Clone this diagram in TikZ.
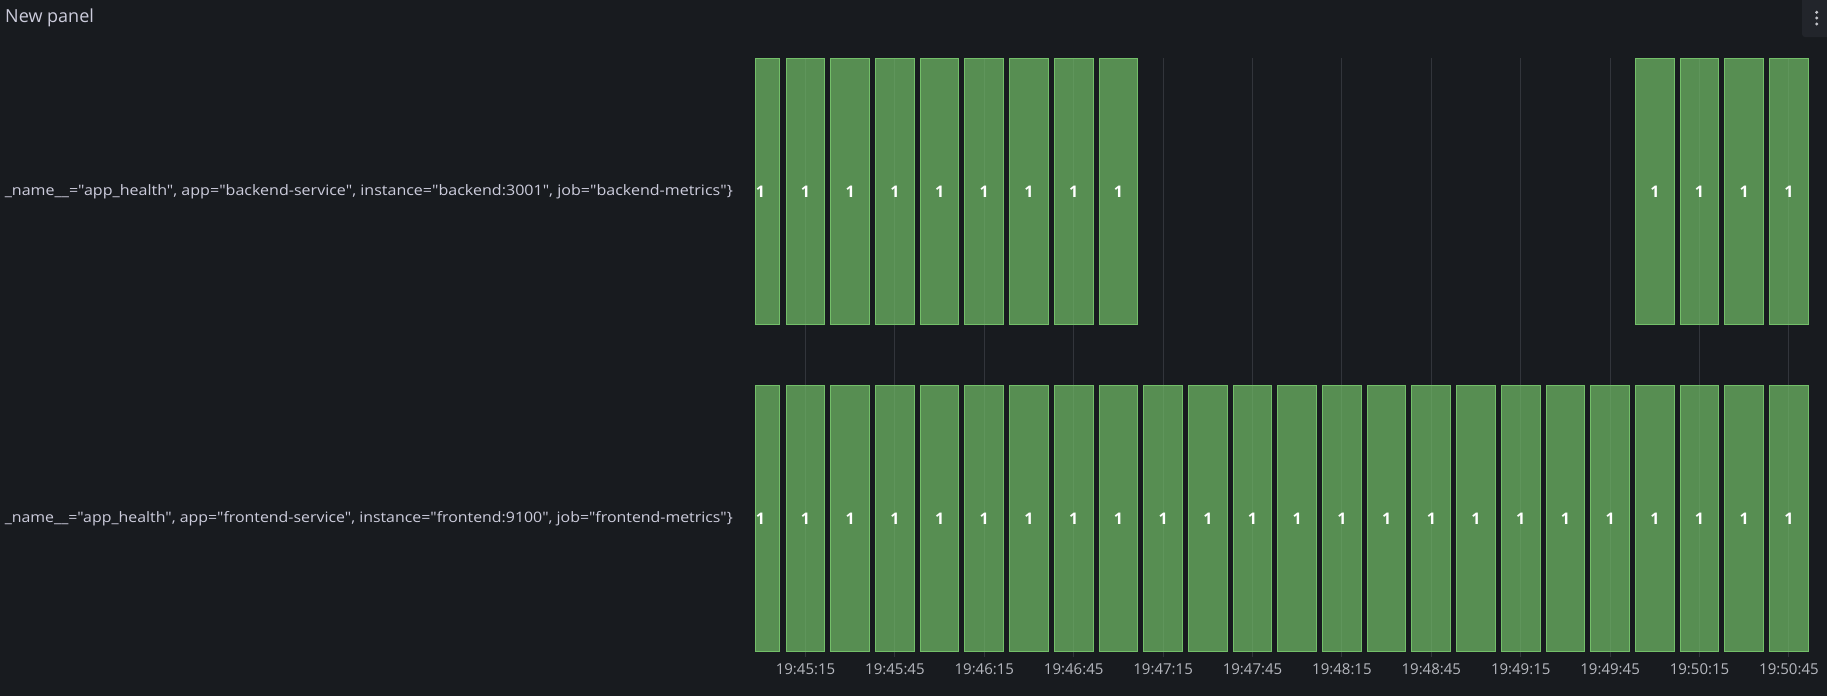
\documentclass[tikz,border=0pt]{standalone}
\usepackage{fontspec}
\setmainfont{Open Sans}[Ligatures=TeXOff]
\pgfdeclarelayer{rejilla}
\pgfsetlayers{rejilla, main}
\definecolor{fondo}{HTML}{181B1F}
\definecolor{verde}{HTML}{73BF69}
\definecolor{linea}{HTML}{32353B}
\definecolor{texto}{HTML}{CCCCDC}
\definecolor{eje}{HTML}{B5B7BE}
\definecolor{boton}{HTML}{22252B}
\tikzstyle{barra}=[rectangle,draw=verde,fill=verde,fill opacity=0.7,text opacity=1,line width=1pt,inner sep=0pt,minimum width=38.7pt,minimum height=266pt,text=white,font=\fontsize{16}{18}\selectfont\bfseries]
\tikzstyle{serie}=[anchor=east,inner sep=0pt,text=texto,font=\fontsize{14.4}{16}\selectfont]
\tikzstyle{hora}=[inner sep=0pt,text=eje,font=\fontsize{15}{17}\selectfont]
\newcommand{\etiqueta}[1]{\resizebox{728pt}{\height}{#1}}

\begin{document}
\begin{tikzpicture}[x=1pt,y=-1pt]
		\useasboundingbox (0,0) rectangle (1827,696);
		\node (titulo) at (5,18) [anchor=west,inner sep=0pt,text=texto,font=\fontsize{18}{20}\selectfont] {New panel};
		\fill[boton,rounded corners=3pt] (1802,-6) rectangle (1834,37);
		\foreach \y in {12.3,18,24} \fill[eje!80] (1816.7,\y) circle (1.7);
		
		\begin{pgfonlayer}{rejilla}
			\fill[fondo] (0,0) rectangle (1827,696);
			\foreach \i in {0,...,11}
				\draw[linea,line width=1pt] (805.5+89.4*\i,58) -- (805.5+89.4*\i,657);
		\end{pgfonlayer}
		
		\node (backend) at (733,191.5) [serie] {\etiqueta{\_name\_\_="app\_health", app="backend-service", instance="backend:3001", job="backend-metrics"\}}};
		\node (frontend) at (733,518.5) [serie] {\etiqueta{\_name\_\_="app\_health", app="frontend-service", instance="frontend:9100", job="frontend-metrics"\}}};
		
		% primera barra cortada
		\node (b0) at (767.35,191.3) [barra,minimum width=24.7pt] {};
		\node (f0) at (767.35,518.7) [barra,minimum width=24.7pt] {};
		\node at (760.5,191.3) [text=white,font=\fontsize{16}{18}\selectfont\bfseries] {1};
		\node at (760.5,518.7) [text=white,font=\fontsize{16}{18}\selectfont\bfseries] {1};
		
		\foreach \k in {0,...,7,19,20,21,22}
			\node (b\k) at (805.5+44.7*\k,191.3) [barra] {1};
		\foreach \k in {0,...,22}
			\node (f\k) at (805.5+44.7*\k,518.7) [barra] {1};
		
		\foreach \t [count=\i from 0] in {19:45:15,19:45:45,19:46:15,19:46:45,19:47:15,19:47:45,19:48:15,19:48:45,19:49:15,19:49:45,19:50:15,19:50:45}
			\node (t\i) at (805.5+89.4*\i,669.3) [hora] {\t};
	\end{tikzpicture}
\end{document}
